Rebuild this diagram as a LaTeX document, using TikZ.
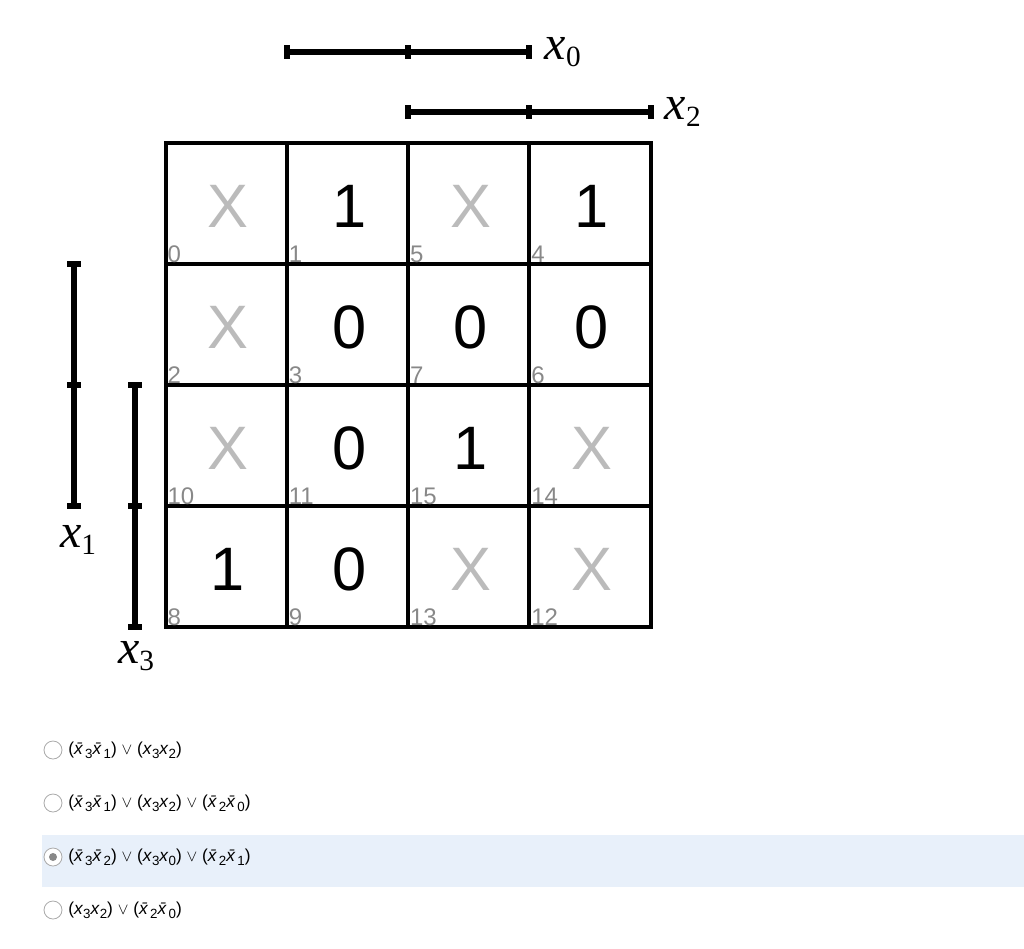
\documentclass[tikz,border=0pt]{standalone}
\usepackage{fontspec}
\setmainfont{Liberation Sans}
\newfontfamily\lab{Liberation Serif}
\definecolor{cellgray}{HTML}{BBBBBB}
\definecolor{idxgray}{HTML}{888888}
\definecolor{band}{HTML}{E8F0FA}
\definecolor{radio}{HTML}{AAAAAA}
\newcommand{\vx}[1]{\textit{x}\raisebox{-0.4ex}{\fontsize{10}{10}\selectfont #1}}
\newcommand{\nx}[1]{\textit{\={x}}\raisebox{-0.4ex}{\fontsize{10}{10}\selectfont #1}}
\newcommand{\orr}{ $\vee$ }
\newcommand{\vs}[1]{\raisebox{-0.3ex}{\upshape\fontsize{22}{22}\selectfont #1}}
\begin{document}
\begin{tikzpicture}[x=0.75pt,y=-0.75pt,
  bar/.style={line width=3.8pt},
  grid/.style={line width=2.6pt},
  val/.style={font=\fontsize{46}{46}\selectfont},
  dc/.style={font=\fontsize{46}{46}\selectfont,text=cellgray},
  idx/.style={font=\fontsize{18}{18}\selectfont,text=idxgray,anchor=south west,inner sep=1pt},
  var/.style={font=\lab\itshape\fontsize{36}{36}\selectfont},
  opt/.style={font=\fontsize{13}{13}\selectfont,anchor=west,inner sep=0pt},
  rb/.style={draw=radio,fill=white,line width=0.6pt}]
\useasboundingbox (0,0) rectangle (1024,949);
\fill[band] (42,835) rectangle (1024,887);
\draw[grid] (166,143) rectangle (651,627);
\foreach \x in {287,408,529} \draw[grid] (\x,143) -- (\x,627);
\foreach \y in {264,385,506} \draw[grid] (166,\y) -- (651,\y);
\foreach \c/\r/\t/\s/\i in {0/0/X/dc/0,1/0/1/val/1,2/0/X/dc/5,3/0/1/val/4,
  0/1/X/dc/2,1/1/0/val/3,2/1/0/val/7,3/1/0/val/6,
  0/2/X/dc/10,1/2/0/val/11,2/2/1/val/15,3/2/X/dc/14,
  0/3/1/val/8,1/3/0/val/9,2/3/X/dc/13,3/3/X/dc/12}{
  \node[\s] (v\i) at ({166+121.25*\c+62},{143+121*\r+63}) {\t};
  \node[idx] (i\i) at ({166+121.25*\c},{143+121*\r+121}) {\i};
}
\coordinate (a0) at (287,52); \coordinate (a1) at (408,52); \coordinate (a2) at (529,52);
\draw[bar] (a0) -- (a2);
\foreach \p in {a0,a1,a2} \draw[bar] ([yshift=-5]\p) -- ([yshift=5]\p);
\node[var,anchor=west] (x0) at (540,52) {x\vs{0}};
\coordinate (b0) at (408,112); \coordinate (b1) at (529,112); \coordinate (b2) at (651,112);
\draw[bar] (b0) -- (b2);
\foreach \p in {b0,b1,b2} \draw[bar] ([yshift=-5]\p) -- ([yshift=5]\p);
\node[var,anchor=west] (x2) at (660,112) {x\vs{2}};
\coordinate (c0) at (74,264); \coordinate (c1) at (74,385); \coordinate (c2) at (74,506);
\draw[bar] (c0) -- (c2);
\foreach \p in {c0,c1,c2} \draw[bar] ([xshift=-5]\p) -- ([xshift=5]\p);
\node[var] (x1) at (78,540) {x\vs{1}};
\coordinate (d0) at (135,385); \coordinate (d1) at (135,506); \coordinate (d2) at (135,627);
\draw[bar] (d0) -- (d2);
\foreach \p in {d0,d1,d2} \draw[bar] ([xshift=-5]\p) -- ([xshift=5]\p);
\node[var] (x3) at (136,656) {x\vs{3}};
\foreach \y/\n in {750/r1,803/r2,857/r3,910/r4}
  \draw[rb] (53,\y) circle (9) coordinate (\n);
\fill[radio!80!black] (r3) circle (4);
\node[opt] (o1) at (68,750) {(\nx{3}\nx{1})\orr(\vx{3}\vx{2})};
\node[opt] (o2) at (68,803) {(\nx{3}\nx{1})\orr(\vx{3}\vx{2})\orr(\nx{2}\nx{0})};
\node[opt] (o3) at (68,857) {(\nx{3}\nx{2})\orr(\vx{3}\vx{0})\orr(\nx{2}\nx{1})};
\node[opt] (o4) at (68,910) {(\vx{3}\vx{2})\orr(\nx{2}\nx{0})};
\end{tikzpicture}
\end{document}
